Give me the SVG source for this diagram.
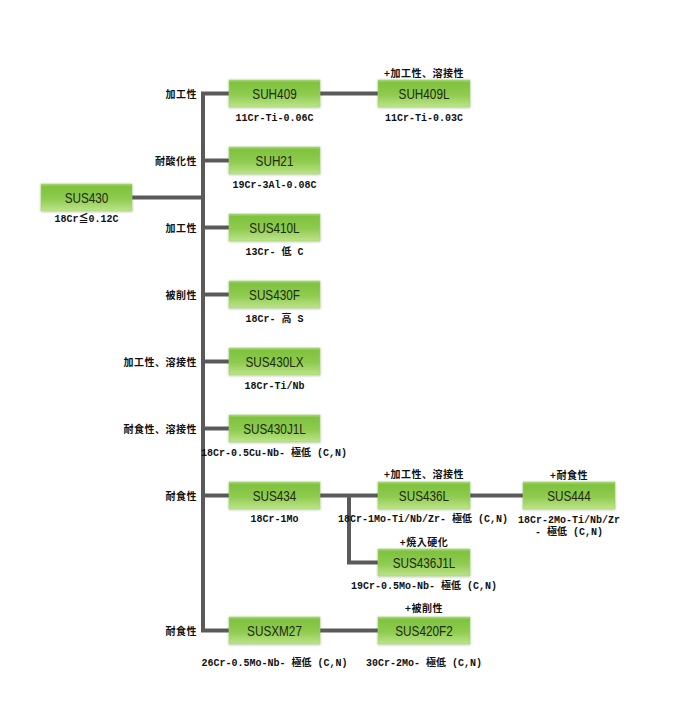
<svg xmlns="http://www.w3.org/2000/svg" width="690" height="715" viewBox="0 0 690 715">
<style>
.bx{fill:url(#g);stroke:#9fd46a;stroke-width:0.6;filter:url(#sh)}
.bt{font-family:"Liberation Sans","Noto Sans",sans-serif;font-size:14px;fill:#1e2a12;text-anchor:middle}
.sm{font-family:"Liberation Mono","Noto Sans CJK JP",monospace;font-size:10px;fill:#111;text-anchor:middle;font-weight:bold}
.lb{font-family:"Noto Sans CJK JP",sans-serif;font-size:10px;font-weight:bold;fill:#111;text-anchor:end;letter-spacing:0.5px}
.tp{font-family:"Noto Sans CJK JP",sans-serif;font-size:10px;font-weight:bold;fill:#111;text-anchor:middle;letter-spacing:0.5px}
.ln{stroke:#5a5a5a;stroke-width:4;fill:none;stroke-linejoin:miter;stroke-linecap:butt}
</style>
<defs>
<linearGradient id="g" x1="0" y1="0" x2="0" y2="1">
<stop offset="0" stop-color="#a6d873"/>
<stop offset="0.1" stop-color="#7fc23e"/>
<stop offset="0.55" stop-color="#8fcb50"/>
<stop offset="1" stop-color="#bde48a"/>
</linearGradient>
<filter id="sh" x="-10%" y="-30%" width="120%" height="160%">
<feDropShadow dx="0" dy="0.5" stdDeviation="1.2" flood-color="#000" flood-opacity="0.3"/>
</filter>
</defs>
<rect width="690" height="715" fill="#fff"/>
<g id="connectors">
<path class="ln" d="M132 197.5 H203"/>
<path class="ln" d="M229 93.5 H203 V630.5 H229"/>
<path class="ln" d="M203 160.5 H229"/>
<path class="ln" d="M203 227.5 H229"/>
<path class="ln" d="M203 294.5 H229"/>
<path class="ln" d="M203 361.5 H229"/>
<path class="ln" d="M203 428.5 H229"/>
<path class="ln" d="M203 495.5 H229"/>
<path class="ln" d="M320 93.5 H378"/>
<path class="ln" d="M320 495.5 H378"/>
<path class="ln" d="M349 495.5 V562.5 H378"/>
<path class="ln" d="M470 495.5 H523"/>
<path class="ln" d="M320 630.5 H378"/>
</g>
<g id="labels">
<text class="lb" x="197" y="97.5">加工性</text>
<text class="lb" x="197" y="164.5">耐酸化性</text>
<text class="lb" x="197" y="231.5">加工性</text>
<text class="lb" x="197" y="298.5">被削性</text>
<text class="lb" x="197" y="365.5">加工性、溶接性</text>
<text class="lb" x="197" y="432.5">耐食性、溶接性</text>
<text class="lb" x="197" y="499.5">耐食性</text>
<text class="lb" x="197" y="634.5">耐食性</text>
</g>
<g id="SUS430">
<rect class="bx" x="41" y="184" width="91" height="27"/>
<text class="bt" transform="translate(86.5,202.5) scale(0.84,1)">SUS430</text>
<text class="sm" x="86.5" y="222">18Cr≦0.12C</text>
</g>
<g id="SUH409">
<rect class="bx" x="229" y="80" width="91" height="27"/>
<text class="bt" transform="translate(274.5,98.5) scale(0.84,1)">SUH409</text>
<text class="sm" x="274.5" y="120.5">11Cr-Ti-0.06C</text>
</g>
<g id="SUH409L">
<rect class="bx" x="378" y="80" width="92" height="27"/>
<text class="tp" x="424" y="77">+加工性、溶接性</text>
<text class="bt" transform="translate(424,98.5) scale(0.84,1)">SUH409L</text>
<text class="sm" x="424" y="120.5">11Cr-Ti-0.03C</text>
</g>
<g id="SUH21">
<rect class="bx" x="229" y="147" width="91" height="27"/>
<text class="bt" transform="translate(274.5,165.5) scale(0.84,1)">SUH21</text>
<text class="sm" x="274.5" y="187.5">19Cr-3Al-0.08C</text>
</g>
<g id="SUS410L">
<rect class="bx" x="229" y="214" width="91" height="27"/>
<text class="bt" transform="translate(274.5,232.5) scale(0.84,1)">SUS410L</text>
<text class="sm" x="274.5" y="254.5">13Cr- 低 C</text>
</g>
<g id="SUS430F">
<rect class="bx" x="229" y="281" width="91" height="27"/>
<text class="bt" transform="translate(274.5,299.5) scale(0.84,1)">SUS430F</text>
<text class="sm" x="274.5" y="321.5">18Cr- 高 S</text>
</g>
<g id="SUS430LX">
<rect class="bx" x="229" y="348" width="91" height="27"/>
<text class="bt" transform="translate(274.5,366.5) scale(0.84,1)">SUS430LX</text>
<text class="sm" x="274.5" y="388.5">18Cr-Ti/Nb</text>
</g>
<g id="SUS430J1L">
<rect class="bx" x="229" y="415" width="91" height="27"/>
<text class="bt" transform="translate(274.5,433.5) scale(0.84,1)">SUS430J1L</text>
<text class="sm" x="274" y="456">18Cr-0.5Cu-Nb- 極低 (C,N)</text>
</g>
<g id="SUS434">
<rect class="bx" x="229" y="482" width="91" height="27"/>
<text class="bt" transform="translate(274.5,500.5) scale(0.84,1)">SUS434</text>
<text class="sm" x="274.5" y="522">18Cr-1Mo</text>
</g>
<g id="SUS436L">
<rect class="bx" x="378" y="482" width="92" height="27"/>
<text class="tp" x="424" y="478">+加工性、溶接性</text>
<text class="bt" transform="translate(424,500.5) scale(0.84,1)">SUS436L</text>
<text class="sm" x="423" y="522">18Cr-1Mo-Ti/Nb/Zr- 極低 (C,N)</text>
</g>
<g id="SUS444">
<rect class="bx" x="523" y="482" width="92" height="27"/>
<text class="tp" x="569" y="479">+耐食性</text>
<text class="bt" transform="translate(569,500.5) scale(0.84,1)">SUS444</text>
<text class="sm" x="569" y="523">18Cr-2Mo-Ti/Nb/Zr</text>
<text class="sm" x="569" y="535">- 極低 (C,N)</text>
</g>
<g id="SUS436J1L">
<rect class="bx" x="378" y="549" width="92" height="27"/>
<text class="tp" x="424" y="546">+焼入硬化</text>
<text class="bt" transform="translate(424,567.5) scale(0.84,1)">SUS436J1L</text>
<text class="sm" x="424" y="589">19Cr-0.5Mo-Nb- 極低 (C,N)</text>
</g>
<g id="SUSXM27">
<rect class="bx" x="229" y="617" width="91" height="27"/>
<text class="bt" transform="translate(274.5,635.5) scale(0.84,1)">SUSXM27</text>
<text class="sm" x="274.5" y="666">26Cr-0.5Mo-Nb- 極低 (C,N)</text>
</g>
<g id="SUS420F2">
<rect class="bx" x="378" y="617" width="92" height="27"/>
<text class="tp" x="424" y="612">+被削性</text>
<text class="bt" transform="translate(424,635.5) scale(0.84,1)">SUS420F2</text>
<text class="sm" x="424" y="666">30Cr-2Mo- 極低 (C,N)</text>
</g>
</svg>
